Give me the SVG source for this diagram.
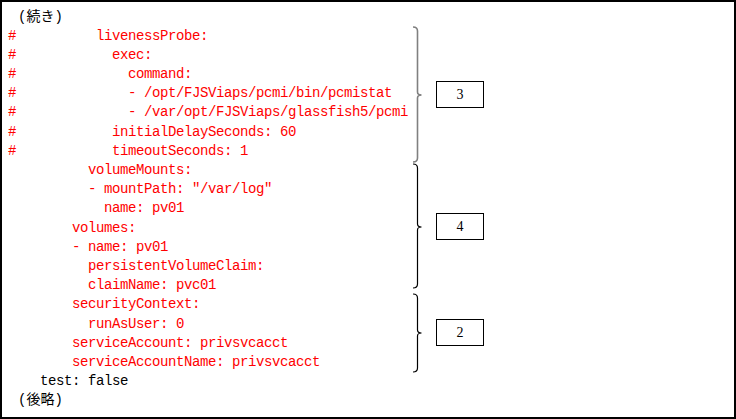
<svg xmlns="http://www.w3.org/2000/svg" width="736" height="419" viewBox="0 0 736 419">
<style>
.c{font-family:"Liberation Mono","DejaVu Sans Mono",monospace;font-size:14px;letter-spacing:-0.4px;fill:#ff0000}
.k{font-family:"Liberation Mono","DejaVu Sans Mono",monospace;font-size:14px;letter-spacing:-0.4px;fill:#000}
.j{font-family:"Liberation Mono","Noto Sans CJK JP",monospace;font-size:14px;fill:#000}
.b{fill:none;stroke:#000;stroke-width:1.2}
.box{fill:#fff;stroke:#000;stroke-width:1}
.n{font-family:"Liberation Serif",serif;font-size:14px;fill:#000;text-anchor:middle}
</style>
<rect x="1" y="1" width="734" height="417" fill="#fff" stroke="#000" stroke-width="2"/>
<g id="code">
<text class="j" x="18" y="20.5">(続き)</text>
<text class="c" x="8" y="39.5">#</text>
<text class="c" x="8" y="58.7">#</text>
<text class="c" x="8" y="77.9">#</text>
<text class="c" x="8" y="97.1">#</text>
<text class="c" x="8" y="116.3">#</text>
<text class="c" x="8" y="135.5">#</text>
<text class="c" x="8" y="154.7">#</text>
<text class="c" x="96" y="39.5">livenessProbe:</text>
<text class="c" x="112" y="58.7">exec:</text>
<text class="c" x="128" y="77.9">command:</text>
<text class="c" x="128" y="97.1">- /opt/FJSViaps/pcmi/bin/pcmistat</text>
<text class="c" x="128" y="116.3">- /var/opt/FJSViaps/glassfish5/pcmi</text>
<text class="c" x="112" y="135.5">initialDelaySeconds: 60</text>
<text class="c" x="112" y="154.7">timeoutSeconds: 1</text>
<text class="c" x="88" y="173.9">volumeMounts:</text>
<text class="c" x="88" y="193.1">- mountPath: "/var/log"</text>
<text class="c" x="104" y="212.3">name: pv01</text>
<text class="c" x="72" y="231.5">volumes:</text>
<text class="c" x="72" y="250.7">- name: pv01</text>
<text class="c" x="88" y="269.9">persistentVolumeClaim:</text>
<text class="c" x="88" y="289.1">claimName: pvc01</text>
<text class="c" x="72" y="308.3">securityContext:</text>
<text class="c" x="88" y="327.5">runAsUser: 0</text>
<text class="c" x="72" y="346.7">serviceAccount: privsvcacct</text>
<text class="c" x="72" y="365.9">serviceAccountName: privsvcacct</text>
<text class="k" x="40" y="385.1">test: false</text>
<text class="j" x="18" y="404.3">(後略)</text>
</g>
<g id="connectors">
<path class="b" style="stroke:#808080;stroke-width:1.6" d="M413 27 Q417.5 27 417.5 31 L417.5 92 Q417.5 95 421.5 95 Q417.5 95 417.5 98 L417.5 158 Q417.5 162 413 162"/>
<path class="b" d="M413 164 Q417.5 164 417.5 168 L417.5 224 Q417.5 227 421.5 227 Q417.5 227 417.5 230 L417.5 284 Q417.5 288 413 288"/>
<path class="b" d="M413 294 Q417.5 294 417.5 298 L417.5 330 Q417.5 333 421.5 333 Q417.5 333 417.5 336 L417.5 368 Q417.5 372 413 372"/>
</g>
<g id="node-3">
<rect class="box" x="436.5" y="81.5" width="47" height="26"/>
<text class="n" x="460" y="99">3</text>
</g>
<g id="node-4">
<rect class="box" x="436.5" y="213.5" width="47" height="26"/>
<text class="n" x="460" y="231">4</text>
</g>
<g id="node-2">
<rect class="box" x="436.5" y="319.5" width="47" height="26"/>
<text class="n" x="460" y="337">2</text>
</g>
</svg>
